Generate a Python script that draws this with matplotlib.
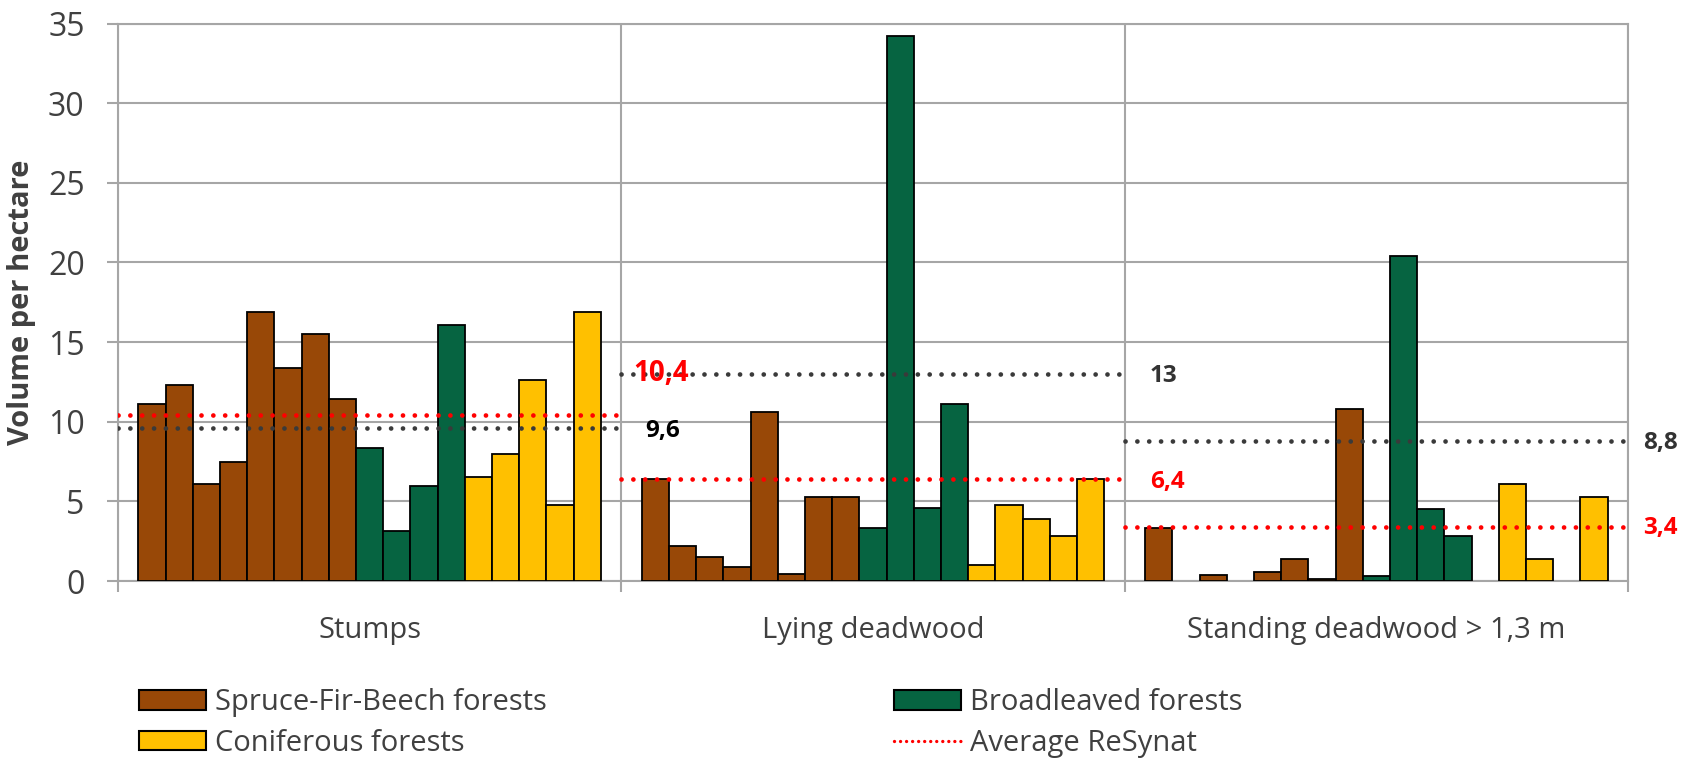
import numpy as np
import matplotlib.pyplot as plt
from matplotlib.lines import Line2D
from matplotlib.patches import Patch

plt.rcParams['font.family'] = ['Open Sans', 'DejaVu Sans']

groups = ['Stumps', 'Lying deadwood', 'Standing deadwood > 1,3 m']

# volumes per hectare, one list per forest type and deadwood group (nan = no bar)
nan = np.nan
sfb_stumps = [11.1, 12.3, 6.1, 7.5, 16.9, 13.4, 15.5, 11.45]
sfb_lying = [6.4, 2.2, 1.5, 0.9, 10.6, 0.45, 5.25, 5.25]
sfb_standing = [3.3, nan, 0.4, nan, 0.55, 1.4, 0.15, 10.8]

broad_stumps = [8.35, 3.15, 5.95, 16.1]
broad_lying = [3.35, 34.2, 4.6, 11.1]
broad_standing = [0.3, 20.4, 4.5, 2.8]

conif_stumps = [6.5, 8.0, 12.6, 4.75, 16.9]
conif_lying = [1.0, 4.75, 3.9, 2.8, 6.4]
conif_standing = [nan, 6.1, 1.4, nan, 5.3]

# averages per group: ReSynat (red) and the other reference (dark grey)
avg_resynat = [10.4, 6.4, 3.4]
avg_other = [9.6, 13, 8.8]

brown, green, yellow = '#984807', '#066441', '#ffc000'
grid_col = '#a6a6a6'
text_col = '#404040'

fig = plt.figure(figsize=(16.82, 7.58), dpi=100)
ax = fig.add_axes([118 / 1682, 1 - 581 / 758, 1510 / 1682, (581 - 23.6) / 758])

gap = 0.0407
slot_w = (1 - 2 * gap) / 17

series = [
    (sfb_stumps, sfb_lying, sfb_standing, brown),
    (broad_stumps, broad_lying, broad_standing, green),
    (conif_stumps, conif_lying, conif_standing, yellow),
]

for g in range(3):
    slot = 0
    for per_group in series:
        vals = np.array(per_group[g], dtype=float)
        color = per_group[3]
        idx = np.arange(len(vals)) + slot
        keep = ~np.isnan(vals)
        x = g + gap + (idx[keep] + 0.5) * slot_w
        ax.bar(x, vals[keep], width=slot_w, color=color, edgecolor='black',
               linewidth=1.3, zorder=3)
        slot += len(vals)

# dotted average lines across each group
dots = (0, (0.01, 2.5))
for g in range(3):
    ax.plot([g, g + 1], [avg_other[g]] * 2, color='#3a3a3a', lw=3.4,
            linestyle=dots, dash_capstyle='round', zorder=4)
    ax.plot([g, g + 1], [avg_resynat[g]] * 2, color='red', lw=3.4,
            linestyle=dots, dash_capstyle='round', zorder=4)

# value labels next to the lines
lab = dict(fontweight='bold', va='center', ha='left', zorder=5)
ax.text(1.023, 13.05, '10,4', color='red', fontsize=20, **lab)
ax.text(1.047, 9.45, '9,6', color='black', fontsize=17.5, **lab)
ax.text(2.05, 12.9, '13', color='#333333', fontsize=17.5, **lab)
ax.text(2.05, 6.2, '6,4', color='red', fontsize=17.5, **lab)
ax.text(3.03, 8.65, '8,8', color='#333333', fontsize=17.5, clip_on=False, **lab)
ax.text(3.03, 3.3, '3,4', color='red', fontsize=17.5, clip_on=False, **lab)

ax.set_xlim(0, 3)
ax.set_ylim(0, 35)
ax.set_yticks(np.arange(0, 36, 5))
ax.set_xticks([0, 1, 2, 3])
ax.set_xticklabels([])
ax.set_xticks([0.5, 1.5, 2.5], minor=True)
ax.set_xticklabels(groups, minor=True)
ax.tick_params(axis='x', which='minor', length=0, pad=25, labelsize=21,
               labelcolor=text_col)
ax.tick_params(axis='x', which='major', length=8, width=1.5, color=grid_col)
ax.tick_params(axis='y', length=8, width=1.5, color=grid_col, pad=16,
               labelsize=23, labelcolor=text_col)
ax.grid(True, which='major', color=grid_col, lw=1.5, zorder=0)
ax.set_axisbelow(True)
for s in ax.spines.values():
    s.set_color(grid_col)
    s.set_linewidth(1.5)

ax.set_ylabel('Volume per hectare', fontsize=21, fontweight='bold',
              color=text_col)
ax.yaxis.set_label_coords(-0.054, 0.5)

handles = [
    Patch(facecolor=brown, edgecolor='black', lw=1.5),
    Patch(facecolor=green, edgecolor='black', lw=1.5),
    Patch(facecolor=yellow, edgecolor='black', lw=1.5),
    Line2D([], [], color='red', lw=2.4, linestyle=(0, (0.01, 1.8)),
           dash_capstyle='round'),
]
labels = ['Spruce-Fir-Beech forests', 'Broadleaved forests',
          'Coniferous forests', 'Average ReSynat']
# reorder so the two columns read row-wise
order = [0, 2, 1, 3]
fig.legend([handles[i] for i in order], [labels[i] for i in order],
           loc='upper left', bbox_to_anchor=(139 / 1682, 0.092), ncol=2,
           frameon=False, fontsize=21, labelcolor=text_col,
           handlelength=2.3, handleheight=0.65, handletextpad=0.3,
           labelspacing=0.4, columnspacing=11.9, borderpad=0,
           borderaxespad=0)

fig.savefig('out.png', dpi=100)
